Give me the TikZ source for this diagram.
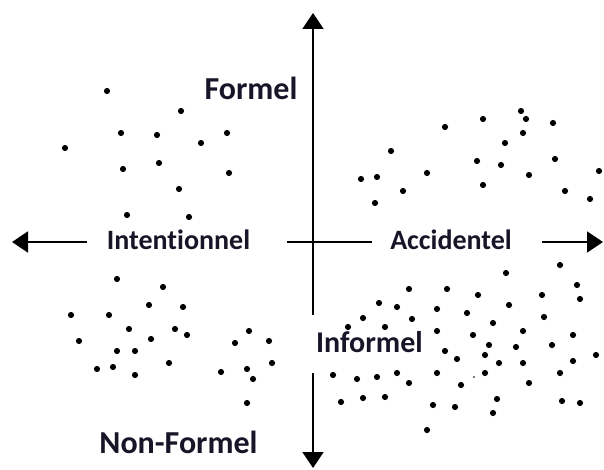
\documentclass[tikz,border=0pt]{standalone}
\usepackage{fontspec}
\setmainfont[Ligatures=NoCommon]{Carlito}
\usetikzlibrary{arrows.meta}
\definecolor{ink}{RGB}{22,22,40}
\tikzset{
  axis/.style={line width=1.6pt, black, {Triangle[width=21pt,length=16pt]}-{Triangle[width=21pt,length=16pt]}},
  gap/.style={fill=white},
  dot/.style={fill=black},
  lab/.style={anchor=base, inner sep=0pt, text=ink},
}
\begin{document}
\begin{tikzpicture}[x=1pt,y=-1pt]
\useasboundingbox (0,0) rectangle (604,470);
% axis end points
\coordinate (top) at (313,13);
\coordinate (bottom) at (313,468);
\coordinate (left) at (12,242);
\coordinate (right) at (603,242);
\draw[axis] (bottom) -- (top);
\draw[axis] (left) -- (right);
% white gaps behind the axis labels
\fill[gap] (87,228) rectangle (287,256);
\fill[gap] (372,228) rectangle (542,256);
\fill[gap] (305,315) rectangle (430,373);
% labels
\node[lab, font=\fontsize{32}{36}\selectfont\bfseries] (formel) at (251,100) {Formel};
\node[lab, font=\fontsize{32}{36}\selectfont\bfseries] (nonformel) at (178.5,453) {Non-Formel};
\node[lab, font=\fontsize{30}{34}\selectfont\bfseries] (informel) at (369.5,352) {Informel};
\node[lab, font=\fontsize{28}{32}\selectfont\bfseries] (intent) at (178.5,249) {Intentionnel};
\node[lab, font=\fontsize{28}{32}\selectfont\bfseries] (accid) at (451,249) {Accidentel};
% scattered points
\foreach \p in {
  (107,91),(181,111),(121,133),(157,135),(227,133),(201,143),(65,148),
  (123,169),(159,163),(229,173),(179,189),(127,215),(189,217),
  (521,111),(526,119),(483,119),(553,123),(445,127),(523,133),(505,143),
  (391,151),(477,161),(501,165),(555,159),(361,179),(377,177),(427,173),
  (529,175),(599,171),(483,185),(403,191),(565,191),(590,199),(375,203),
  (117,279),(163,287),(149,305),(183,307),(71,315),(109,315),(129,329),
  (175,329),(187,335),(79,341),(151,339),(117,351),(135,351),(97,369),
  (113,367),(135,375),(169,363),(249,331),(235,343),(269,341),(272,363),
  (221,372),(247,369),(253,379),(247,403),
  (560,265),(506,273),(577,285),(580,299),(409,289),(447,289),(478,295),
  (542,295),(379,303),(397,307),(509,305),(437,309),(467,313),(363,318),
  (412,319),(544,317),(493,323),(348,327),(385,327),(437,331),(523,331),
  (473,335),(573,335),(489,345),(516,347),(552,345),(445,351),(485,355),
  (596,355),(457,359),(499,363),(523,363),(573,361),(333,375),(357,379),
  (377,377),(397,373),(409,383),(437,373),(485,373),(560,373),(461,385),
  (529,383),(341,402),(363,398),(385,397),(497,399),(562,401),(580,403),
  (433,405),(455,407),(493,413),(427,430)}
  \fill[dot] \p circle (3.1pt);
\fill[dot] (474,377) circle (0.9pt);
\end{tikzpicture}
\end{document}
